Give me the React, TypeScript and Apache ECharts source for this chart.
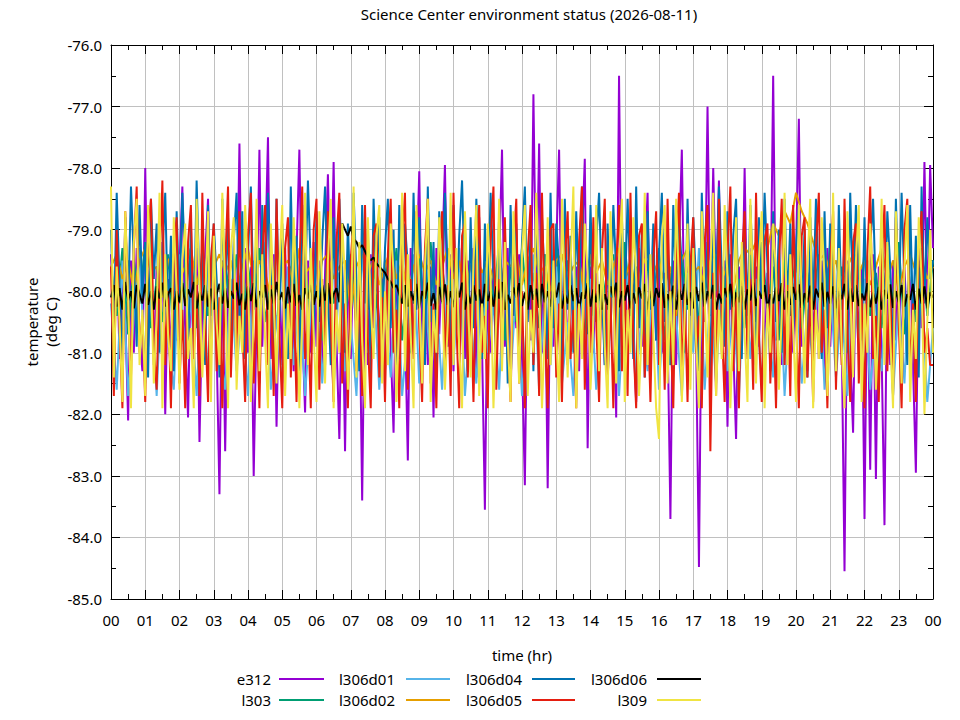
import React, { useEffect, useRef } from "react";
import * as echarts from "echarts";

const TITLE = "Science Center environment status (2026-08-11)";
const X_NAME = "time (hr)";
const Y_NAME = ["temperature", "(deg C)"];

const seriesNames = ["e312", "l303", "l306d01", "l306d02", "l306d04", "l306d05", "l306d06", "l309"];
const seriesColors = ["#9400d3", "#009e73", "#56b4e9", "#e69f00", "#0072b2", "#e51e10", "#000000", "#f0e442"];

// readings every 5 minutes, 00:00 .. 24:00 (one row per hour)
const e312 = [
  -79.4, -80.6, -79.2, -81.1, -79.7, -80.4, -82.1, -79.5, -81.0, -79.3, -80.7, -81.3,
  -78.0, -80.9, -79.4, -81.2, -79.6, -80.5, -79.2, -82.0, -79.8, -81.1, -79.4, -80.8,
  -79.6, -78.3, -80.7, -82.05, -79.5, -81.0, -79.3, -82.45, -80.2, -79.4, -78.5, -81.1,
  -79.7, -80.9, -83.3, -79.5, -82.6, -79.8, -81.2, -79.4, -80.6, -77.6, -80.8, -79.3,
  -81.0, -79.6, -83.0, -80.4, -77.7, -80.9, -79.5, -77.5, -81.1, -79.4, -82.2, -79.8,
  -81.2, -79.3, -80.8, -79.6, -81.3, -79.4, -77.7, -80.6, -81.97, -79.5, -81.0, -79.2,
  -80.9, -79.5, -81.3, -79.7, -78.1, -80.3, -77.9, -80.8, -82.4, -79.6, -82.6, -79.4,
  -81.1, -79.3, -80.7, -79.8, -83.4, -79.5, -81.2, -79.4, -80.6, -79.2, -81.0, -79.7,
  -81.3, -79.5, -80.9, -82.3, -79.4, -81.1, -79.6, -80.5, -82.75, -79.3, -81.0, -79.7,
  -78.05, -80.8, -79.4, -81.2, -79.6, -82.05, -79.3, -80.7, -79.5, -77.95, -80.9, -79.4,
  -81.3, -79.6, -80.8, -79.2, -81.1, -79.5, -80.6, -79.3, -81.4, -78.8, -80.9, -83.55,
  -79.6, -81.0, -79.4, -81.2, -79.5, -77.7, -80.9, -79.3, -81.3, -79.7, -80.6, -79.4,
  -81.1, -83.15, -79.5, -80.8, -76.8, -80.2, -77.6, -81.0, -79.4, -83.2, -79.6, -80.9,
  -79.3, -77.7, -80.9, -79.5, -81.2, -79.4, -80.7, -79.6, -81.3, -79.2, -77.85, -82.55,
  -79.6, -81.0, -79.3, -80.8, -79.7, -81.2, -79.4, -80.6, -79.5, -82.05, -76.5, -80.9,
  -79.4, -81.1, -79.6, -80.7, -81.8, -79.3, -80.9, -79.5, -78.4, -81.2, -79.6, -80.8,
  -79.4, -81.0, -79.7, -80.6, -83.7, -79.5, -81.2, -79.3, -77.7, -80.9, -79.5, -81.1,
  -79.4, -80.8, -84.48, -79.6, -80.5, -77.0, -80.4, -78.0, -80.1, -78.2, -81.0, -79.5,
  -82.2, -79.4, -80.9, -82.4, -79.6, -80.7, -78.0, -80.8, -79.3, -81.2, -79.6, -80.9,
  -79.4, -81.1, -79.7, -80.6, -76.5, -80.8, -79.5, -81.2, -79.3, -80.9, -79.6, -81.0,
  -79.4, -77.2, -80.9, -79.6, -81.3, -79.4, -80.8, -79.7, -81.1, -79.5, -81.3, -79.3,
  -80.9, -79.6, -81.2, -79.4, -80.7, -84.55, -79.5, -81.0, -82.3, -79.4, -80.8, -79.6,
  -83.7, -79.5, -82.9, -79.4, -83.05, -79.6, -81.0, -83.8, -79.3, -81.2, -79.5, -80.8,
  -79.4, -81.1, -79.6, -80.7, -79.3, -81.2, -82.95, -79.5, -80.6, -77.9, -80.4, -77.95,
  -79.3,
];

// readings every 10 minutes
const l303 = [
  -79.6, -80.4, -79.3, -80.7, -79.5, -80.2, -79.2, -80.6, -79.8, -80.5, -79.4, -80.8,
  -79.6, -80.1, -79.3, -80.6, -79.7, -80.4, -79.2, -80.7, -79.5, -80.3, -79.4, -80.8,
  -79.6, -80.2, -79.3, -80.5, -79.8, -80.6, -79.4, -80.3, -79.2, -80.7, -79.6, -80.4,
  -79.5, -80.8, -79.3, -80.2, -79.7, -80.5, -79.4, -80.6, -79.2, -80.3, -79.6, -80.7,
  -79.5, -80.4, -79.3, -80.8, -79.7, -80.2, -79.4, -80.6, -79.2, -80.5, -79.6, -80.3,
  -79.5, -80.7, -79.3, -80.4, -79.8, -80.6, -79.4, -80.2, -79.2, -80.8, -79.6, -80.5,
  -79.3, -80.3, -79.7, -80.6, -79.4, -80.4, -79.2, -80.7, -79.5, -80.2, -79.6, -80.8,
  -79.3, -80.5, -79.7, -80.3, -79.4, -80.6, -79.2, -80.4, -79.6, -80.7, -79.5, -80.2,
  -79.3, -80.8, -79.7, -80.5, -79.4, -80.3, -79.2, -80.6, -79.6, -80.4, -79.5, -80.7,
  -79.3, -80.2, -79.8, -80.6, -79.4, -80.5, -79.2, -80.3, -79.6, -80.8, -79.5, -80.4,
  -79.3, -80.6, -79.7, -80.2, -79.4, -80.7, -79.2, -80.5, -79.6, -80.3, -79.5, -80.8,
  -79.3, -80.4, -79.7, -80.6, -79.4, -80.2, -79.2, -80.7, -79.6, -80.5, -79.3, -80.4,
  -79.5,
];

// readings every 10 minutes
const l306d01 = [
  -80.2, -81.6, -79.5, -81.7, -80.4, -79.3, -81.5, -80.0, -81.7, -79.6, -80.8, -81.6,
  -79.4, -81.2, -80.1, -81.7, -79.7, -81.4, -79.3, -80.9, -81.6, -79.8, -81.3, -80.2,
  -81.7, -79.5, -81.0, -79.2, -81.6, -80.4, -81.5, -79.6, -81.2, -79.9, -81.7, -80.3,
  -79.4, -81.5, -80.0, -81.6, -79.7, -81.3, -80.5, -81.7, -79.3, -81.0, -79.8, -81.6,
  -80.2, -81.4, -79.5, -81.7, -80.6, -79.4, -81.5, -79.9, -81.3, -80.1, -81.6, -79.6,
  -81.2, -79.3, -81.7, -80.4, -81.5, -79.7, -81.0, -80.2, -81.6, -79.5, -81.4, -79.9,
  -81.7, -80.3, -79.4, -81.6, -80.0, -81.2, -79.6, -81.5, -80.5, -81.7, -79.3, -81.1,
  -79.8, -81.6, -80.2, -81.4, -79.5, -81.7, -80.0, -79.6, -81.5, -80.3, -81.3, -79.4,
  -81.6, -79.9, -81.2, -80.4, -81.7, -79.7, -81.0, -79.3, -81.6, -80.1, -81.5, -79.6,
  -81.3, -80.2, -81.7, -79.5, -81.1, -79.8, -81.6, -80.4, -81.4, -79.3, -81.7, -80.0,
  -79.7, -81.5, -80.3, -81.2, -79.5, -81.6, -79.9, -81.4, -80.2, -81.7, -79.4, -81.0,
  -79.8, -81.6, -80.5, -81.3, -79.6, -81.7, -80.1, -81.5, -79.4, -81.2, -80.0, -81.8,
  -80.6,
];

// readings every 10 minutes
const l306d02 = [
  -79.6, -79.4, -79.8, -79.5, -80.0, -79.5, -79.3, -79.7, -79.6, -80.1, -79.5, -79.4,
  -79.8, -79.6, -79.3, -79.9, -79.5, -80.2, -79.6, -79.4, -79.7, -79.5, -80.0, -79.6,
  -79.3, -79.8, -79.5, -79.7, -80.1, -79.4, -79.6, -79.5, -79.9, -79.3, -79.7, -79.6,
  -80.0, -79.5, -79.4, -79.8, -79.6, -79.5, -80.3, -79.6, -79.4, -79.7, -79.5, -79.9,
  -79.6, -79.3, -79.8, -79.5, -80.1, -79.6, -79.4, -79.7, -79.5, -79.9, -79.6, -79.3,
  -79.8, -79.5, -80.0, -79.6, -79.4, -79.7, -79.5, -79.8, -80.2, -79.5, -79.6, -79.4,
  -79.9, -79.5, -79.3, -79.7, -79.6, -80.0, -79.5, -79.4, -79.8, -79.6, -79.5, -80.1,
  -79.4, -79.7, -79.5, -79.9, -79.6, -79.3, -79.8, -79.5, -80.0, -79.6, -79.4, -79.7,
  -79.5, -79.9, -79.6, -80.4, -79.5, -79.3, -79.7, -79.6, -79.9, -79.5, -79.4, -79.8,
  -79.6, -80.0, -79.5, -79.3, -79.4, -79.2, -79.0, -79.3, -78.9, -79.1, -78.7, -78.9,
  -78.4, -78.7, -78.9, -79.2, -79.5, -79.4, -79.7, -79.5, -80.0, -79.6, -79.4, -79.7,
  -79.5, -79.9, -79.6, -79.3, -79.8, -79.5, -80.0, -79.6, -79.4, -79.7, -79.5, -79.8,
  -79.6,
];

// readings every 5 minutes
const l306d04 = [
  -79.0, -80.6, -78.4, -79.9, -81.2, -78.8, -80.3, -78.3, -79.5, -80.9, -78.6, -80.1,
  -79.2, -81.4, -78.5, -79.8, -78.9, -81.0, -79.4, -78.4, -80.5, -79.1, -81.3, -78.7,
  -80.2, -78.4, -79.6, -81.1, -78.9, -80.7, -78.2, -79.9, -79.3, -81.2, -78.6, -80.4,
  -78.9, -79.8, -81.4, -78.5, -80.2, -78.8, -80.9, -79.2, -78.4, -80.6, -78.7, -81.1,
  -79.4, -78.3, -80.3, -79.0, -81.5, -78.6, -80.1, -78.4, -79.7, -81.2, -78.5, -80.5,
  -78.9, -79.9, -81.1, -78.3, -80.4, -79.1, -81.3, -78.6, -80.0, -78.2, -79.6, -80.8,
  -78.7, -80.5, -79.2, -78.3, -80.1, -81.2, -78.8, -80.3, -78.5, -79.7, -81.0, -78.9,
  -80.4, -78.4, -79.8, -81.3, -78.6, -80.2, -79.0, -81.4, -78.5, -80.0, -78.8, -80.7,
  -79.3, -78.5, -80.6, -79.0, -81.5, -78.6, -80.1, -78.9, -79.6, -81.0, -78.4, -80.3,
  -78.8, -79.9, -81.2, -78.3, -80.5, -79.2, -81.4, -78.7, -80.2, -78.4, -79.7, -80.9,
  -78.6, -80.4, -79.1, -78.2, -80.0, -81.3, -78.8, -80.6, -78.5, -79.8, -81.1, -78.9,
  -80.3, -78.4, -79.7, -81.2, -78.7, -80.1, -79.3, -81.5, -78.6, -80.4, -78.9, -80.8,
  -79.2, -78.3, -80.5, -79.0, -81.3, -78.5, -80.2, -78.8, -79.9, -81.1, -78.4, -80.6,
  -78.9, -79.6, -81.4, -78.5, -80.3, -79.1, -81.0, -78.7, -80.1, -78.3, -79.8, -80.7,
  -78.6, -80.4, -79.2, -78.4, -80.0, -81.2, -78.9, -80.5, -78.6, -79.7, -81.3, -78.8,
  -80.2, -78.5, -79.9, -81.1, -78.3, -80.6, -79.0, -81.4, -78.7, -80.3, -78.9, -80.8,
  -79.4, -78.4, -80.5, -79.1, -81.2, -78.6, -80.1, -78.8, -79.6, -81.0, -78.5, -80.4,
  -78.8, -79.9, -81.3, -78.4, -80.2, -79.2, -81.5, -78.6, -80.0, -78.3, -79.7, -80.9,
  -78.7, -80.3, -79.1, -78.5, -80.6, -81.1, -78.9, -80.4, -78.6, -79.8, -81.2, -78.8,
  -80.1, -78.4, -79.6, -81.3, -78.7, -80.5, -79.0, -81.0, -78.5, -80.2, -78.9, -80.7,
  -79.3, -78.6, -80.4, -79.0, -81.4, -78.8, -80.2, -78.5, -79.9, -81.1, -78.7, -80.6,
  -78.9, -79.8, -81.2, -78.6, -80.3, -79.2, -81.0, -78.4, -80.1, -78.6, -79.7, -80.8,
  -78.8, -80.5, -79.3, -78.5, -80.1, -81.3, -78.9, -80.4, -78.7, -79.6, -81.1, -78.5,
  -80.3, -78.4, -79.9, -81.2, -78.6, -80.5, -79.1, -81.4, -78.3, -80.2, -78.8, -79.8,
  -79.5,
];

// readings every 5 minutes
const l306d05 = [
  -79.6, -81.7, -79.0, -80.6, -81.9, -78.7, -80.2, -81.4, -79.3, -78.3, -81.0, -80.4,
  -81.8, -79.1, -78.5, -80.9, -81.6, -79.7, -78.2, -81.2, -80.0, -81.9, -79.4, -78.8,
  -81.5, -80.3, -81.9, -79.2, -78.6, -81.1, -79.9, -81.7, -78.4, -80.5, -81.8, -79.5,
  -78.9, -81.3, -80.1, -81.9, -79.6, -78.3, -81.4, -79.8, -81.0, -78.7, -80.6, -81.8,
  -79.1, -78.4, -81.5, -80.2, -81.9, -79.4, -78.6, -81.2, -79.9, -81.7, -78.5, -80.7,
  -81.9, -79.3, -78.8, -81.4, -80.0, -81.8, -79.6, -78.3, -81.1, -80.4, -81.9, -79.0,
  -78.5, -81.6, -79.8, -81.2, -78.7, -80.5, -81.8, -79.2, -78.4, -81.5, -80.2, -81.9,
  -79.5, -78.8, -81.3, -79.9, -81.7, -78.6, -80.8, -81.9, -79.1, -78.9, -81.4, -80.1,
  -81.8, -79.4, -78.5, -81.0, -80.3, -81.9, -79.2, -78.4, -81.6, -79.8, -81.1, -78.7,
  -80.6, -81.8, -79.3, -78.5, -81.5, -80.2, -81.9, -79.5, -78.7, -81.2, -79.9, -81.7,
  -78.4, -80.5, -81.9, -79.1, -78.9, -81.4, -80.1, -81.8, -79.6, -78.6, -81.0, -80.4,
  -81.9, -79.2, -78.3, -81.6, -79.8, -81.1, -78.8, -80.7, -81.8, -79.3, -78.5, -81.5,
  -80.0, -81.9, -79.4, -78.6, -81.2, -79.7, -81.7, -78.4, -80.6, -81.9, -79.0, -78.9,
  -81.4, -80.2, -81.8, -79.5, -78.7, -81.1, -80.3, -81.9, -79.2, -78.3, -81.6, -79.9,
  -81.0, -78.8, -80.5, -81.8, -79.4, -78.5, -81.5, -80.1, -81.9, -79.6, -78.6, -81.3,
  -79.8, -81.7, -78.4, -80.8, -81.9, -79.1, -78.9, -81.4, -80.2, -81.8, -79.5, -78.7,
  -81.2, -79.9, -81.6, -78.5, -80.6, -81.9, -79.3, -78.4, -81.5, -80.0, -81.8, -79.6,
  -78.8, -81.0, -80.4, -81.9, -79.2, -78.6, -82.6, -79.7, -81.7, -78.5, -80.5, -81.8,
  -79.4, -78.3, -81.3, -80.1, -81.9, -79.5, -78.7, -81.1, -79.8, -81.6, -78.4, -80.7,
  -81.8, -79.2, -78.9, -81.5, -80.2, -81.9, -79.6, -78.5, -81.2, -79.9, -81.7, -78.6,
  -80.4, -81.9, -79.1, -78.8, -81.4, -80.0, -81.8, -79.3, -78.4, -81.0, -80.3, -81.9,
  -79.5, -78.7, -81.6, -79.8, -81.2, -78.5, -80.6, -81.8, -79.2, -78.9, -81.5, -80.1,
  -81.9, -79.4, -78.3, -81.1, -80.4, -81.8, -79.6, -78.6, -81.3, -79.9, -81.7, -78.8,
  -80.5, -81.9, -79.0, -78.5, -81.4, -80.2, -81.8, -79.3, -78.7, -81.0, -80.6, -81.2,
  -81.2,
];

// readings every 5 minutes
const l306d06 = [
  -80.1, -79.9, -80.25, -79.95, -80.3, -79.85, -80.15, -80.0, -80.28, -79.9, -80.05, -80.2,
  -79.88, -80.22, -80.0, -80.3, -79.92, -80.12, -79.86, -80.25, -80.05, -79.95, -80.3, -80.0,
  -80.18, -79.87, -80.24, -79.97, -80.1, -79.85, -80.28, -80.02, -80.15, -79.9, -80.25, -79.96,
  -80.3, -80.05, -79.88, -80.2, -79.95, -80.27, -80.0, -80.12, -79.86, -80.23, -80.04, -80.3,
  -79.92, -80.16, -79.87, -80.26, -80.0, -80.1, -79.9, -80.3, -79.97, -80.2, -79.85, -80.14,
  -80.02, -80.28, -79.93, -80.18, -79.88, -80.24, -80.06, -80.3, -79.95, -80.12, -79.9, -80.22,
  -80.0, -80.25, -79.9, -80.15, -79.87, -80.2, -80.05, -79.95, -80.18, -78.9, -79.0, -79.1,
  -78.95, -79.15, -79.2, -79.3, -79.25, -79.35, -79.45, -79.5, -79.45, -79.55, -79.6, -79.65,
  -79.7, -79.8, -79.85, -79.95, -79.9, -80.05, -80.2, -79.9, -80.25, -80.0, -80.15, -79.88,
  -80.28, -80.0, -80.12, -79.86, -80.24, -80.03, -80.3, -79.93, -80.17, -79.89, -80.22, -80.0,
  -80.26, -79.95, -80.1, -79.86, -80.3, -80.04, -80.2, -79.9, -80.15, -79.97, -80.28, -79.88,
  -80.16, -80.0, -80.25, -79.92, -80.12, -79.85, -80.3, -80.06, -80.2, -79.94, -80.1, -79.87,
  -80.24, -80.02, -80.3, -79.9, -80.14, -79.96, -80.27, -79.88, -80.18, -80.0, -80.25, -79.93,
  -80.1, -79.86, -80.28, -80.04, -80.2, -79.9, -80.16, -79.95, -80.3, -80.02, -80.12, -79.87,
  -80.25, -79.97, -80.18, -79.89, -80.3, -80.05, -80.22, -79.92, -80.1, -79.86, -80.26, -80.0,
  -80.15, -79.9, -80.28, -80.03, -80.2, -79.94, -80.12, -79.88, -80.3, -80.0, -80.24, -79.95,
  -80.1, -79.87, -80.27, -80.05, -80.18, -79.91, -80.3, -79.96, -80.14, -79.88, -80.22, -80.02,
  -80.28, -79.93, -80.16, -79.86, -80.25, -80.0, -80.12, -79.9, -80.3, -80.04, -80.2, -79.95,
  -80.1, -79.88, -80.26, -80.02, -80.18, -79.92, -80.3, -79.97, -80.15, -79.86, -80.24, -80.0,
  -80.12, -79.9, -80.28, -80.05, -80.2, -79.94, -80.16, -79.87, -80.3, -80.0, -80.22, -79.93,
  -80.14, -79.89, -80.27, -80.03, -80.18, -79.91, -80.3, -79.96, -80.1, -79.86, -80.25, -80.01,
  -80.2, -79.92, -80.28, -80.0, -80.13, -79.88, -80.3, -79.95, -80.17, -79.9, -80.24, -80.04,
  -80.15, -79.87, -80.26, -80.02, -80.2, -79.93, -80.3, -79.98, -80.12, -79.89, -80.27, -80.0,
  -80.18, -79.9, -80.25, -80.05, -80.14, -79.88, -80.3, -79.96, -80.2, -79.92, -80.28, -80.02,
  -80.1,
];

// readings every 5 minutes
const l309 = [
  -78.3, -81.4, -79.6, -80.5, -81.8, -78.7, -80.1, -81.9, -79.2, -78.5, -81.2, -80.3,
  -81.7, -78.6, -79.8, -81.5, -80.4, -78.4, -81.9, -79.4, -80.7, -81.3, -78.8, -80.0,
  -81.6, -79.5, -78.9, -81.1, -80.6, -81.9, -78.5, -79.9, -81.4, -80.2, -78.7, -81.8,
  -79.1, -80.5, -81.2, -78.4, -80.0, -81.9, -79.3, -78.8, -81.6, -80.4, -81.0, -78.6,
  -79.7, -81.8, -80.3, -78.5, -81.3, -79.4, -80.8, -81.9, -78.9, -80.1, -81.5, -79.6,
  -78.6, -81.7, -80.2, -81.1, -78.8, -79.9, -81.9, -80.5, -78.4, -81.2, -79.3, -80.7,
  -81.8, -78.7, -80.0, -81.5, -79.5, -78.5, -81.9, -80.3, -81.0, -78.9, -79.8, -81.6,
  -80.6, -78.3, -81.4, -79.2, -80.8, -81.9, -78.8, -80.2, -81.1, -79.1, -78.6, -81.5,
  -80.0, -81.2, -78.9, -79.7, -81.8, -80.4, -78.4, -81.3, -79.4, -80.7, -81.9, -78.6,
  -80.1, -81.5, -79.6, -78.5, -81.8, -80.3, -81.0, -78.8, -79.9, -81.6, -80.5, -78.4,
  -81.2, -79.3, -80.9, -81.9, -78.7, -80.0, -81.4, -79.5, -78.6, -81.7, -80.2, -81.1,
  -78.9, -79.8, -81.9, -80.4, -78.5, -81.3, -79.2, -80.8, -81.8, -78.7, -80.1, -81.5,
  -79.4, -78.6, -81.7, -80.3, -81.0, -78.4, -79.9, -81.9, -80.6, -78.8, -81.2, -79.5,
  -80.7, -81.8, -78.5, -80.0, -81.4, -79.6, -78.3, -81.9, -80.2, -81.1, -78.9, -79.7,
  -81.6, -80.5, -78.6, -81.3, -79.3, -80.9, -81.9, -78.7, -80.1, -81.5, -79.5, -78.5,
  -81.8, -80.3, -81.0, -78.8, -79.8, -81.7, -80.6, -78.4, -81.2, -79.4, -80.7, -81.9,
  -82.4, -79.1, -78.6, -81.5, -80.0, -81.2, -78.5, -79.9, -81.8, -80.4, -78.9, -81.6,
  -79.3, -80.8, -81.9, -78.7, -80.1, -81.4, -79.6, -78.4, -81.7, -80.3, -81.1, -78.6,
  -79.8, -81.9, -80.5, -78.8, -81.3, -79.2, -80.7, -81.8, -78.5, -80.0, -81.5, -79.5,
  -78.7, -81.9, -80.2, -81.0, -78.9, -79.7, -81.6, -80.4, -78.4, -81.2, -79.4, -80.6,
  -81.8, -78.6, -80.1, -81.5, -79.6, -78.5, -81.9, -80.3, -81.1, -78.8, -79.8, -81.7,
  -80.5, -78.4, -81.3, -79.3, -80.9, -81.9, -78.7, -80.0, -81.4, -79.5, -78.6, -81.8,
  -80.2, -81.0, -78.9, -79.9, -81.6, -80.4, -78.5, -81.2, -79.2, -80.7, -81.9, -78.7,
  -80.1, -81.5, -79.6, -78.6, -81.8, -80.3, -81.1, -78.8, -79.8, -82.0, -80.5, -79.0,
  -81.0,
];

const seriesValues = [e312, l303, l306d01, l306d02, l306d04, l306d05, l306d06, l309];

const Y_MIN = -85;
const Y_MAX = -76;
const X_MIN = 0;
const X_MAX = 24;

const FONT = "'Noto Sans', 'DejaVu Sans', sans-serif";

export default function App() {
  const ref = useRef<HTMLDivElement>(null);

  useEffect(() => {
    if (!ref.current) return;
    const chart = echarts.init(ref.current, undefined, { renderer: "svg" });

    const toPoints = (vals: number[]) =>
      vals.map((v, i) => [X_MIN + (i * (X_MAX - X_MIN)) / (vals.length - 1), v]);

    const series = seriesNames.map((name, k) => ({
      name,
      type: "line",
      data: toPoints(seriesValues[k]),
      xAxisIndex: 0,
      yAxisIndex: 0,
      showSymbol: false,
      symbol: "none",
      lineStyle: { color: seriesColors[k], width: 2 },
      itemStyle: { color: seriesColors[k] },
      z: 2 + k,
    }));

    const tickCommon = {
      axisLine: { show: true, onZero: false, lineStyle: { color: "#000", width: 1 } },
      axisTick: { show: true, inside: true, length: 9, lineStyle: { color: "#000", width: 1 } },
      minorTick: { show: true, splitNumber: 2, length: 5, lineStyle: { color: "#000", width: 1 } },
    };

    const legendCols = [
      { right: 271, lineStart: 279, lineEnd: 324 },
      { right: 395, lineStart: 406, lineEnd: 450 },
      { right: 522, lineStart: 532, lineEnd: 575 },
      { right: 647, lineStart: 657, lineEnd: 701 },
    ];
    const legendRows = [679, 700];
    const legendGraphics: any[] = [];
    seriesNames.forEach((name, k) => {
      const col = legendCols[Math.floor(k / 2)];
      const y = legendRows[k % 2];
      legendGraphics.push({
        type: "text",
        x: col.right,
        y,
        style: {
          text: name,
          font: `15px ${FONT}`,
          fill: "#000",
          textAlign: "right",
          textVerticalAlign: "middle",
        },
      });
      legendGraphics.push({
        type: "line",
        shape: { x1: col.lineStart, y1: y, x2: col.lineEnd, y2: y },
        style: { stroke: seriesColors[k], lineWidth: 2 },
      });
    });

    chart.setOption({
      animation: false,
      backgroundColor: "#ffffff",
      grid: { left: 111, right: 27, top: 45, bottom: 121, containLabel: false },
      xAxis: [
        {
          type: "value",
          position: "bottom",
          min: X_MIN,
          max: X_MAX,
          interval: 1,
          ...tickCommon,
          axisLabel: {
            color: "#000",
            fontSize: 15,
            fontFamily: FONT,
            margin: 13,
            formatter: (v: number) => String(Math.round(v) % 24).padStart(2, "0"),
          },
          splitLine: { show: true, lineStyle: { color: "#c0c0c0", width: 1 } },
        },
        {
          type: "value",
          position: "top",
          min: X_MIN,
          max: X_MAX,
          interval: 1,
          ...tickCommon,
          axisLabel: { show: false },
          splitLine: { show: false },
        },
      ],
      yAxis: [
        {
          type: "value",
          position: "left",
          min: Y_MIN,
          max: Y_MAX,
          interval: 1,
          ...tickCommon,
          axisLabel: {
            color: "#000",
            fontSize: 15,
            fontFamily: FONT,
            margin: 9,
            formatter: (v: number) => v.toFixed(1),
          },
          splitLine: { show: true, lineStyle: { color: "#c0c0c0", width: 1 } },
        },
        {
          type: "value",
          position: "right",
          min: Y_MIN,
          max: Y_MAX,
          interval: 1,
          ...tickCommon,
          axisLabel: { show: false },
          splitLine: { show: false },
        },
      ],
      graphic: [
        {
          type: "text",
          x: 529,
          y: 14,
          style: {
            text: TITLE,
            font: `15px ${FONT}`,
            fill: "#000",
            textAlign: "center",
            textVerticalAlign: "middle",
          },
        },
        {
          type: "text",
          x: 522,
          y: 655,
          style: {
            text: X_NAME,
            font: `15px ${FONT}`,
            fill: "#000",
            textAlign: "center",
            textVerticalAlign: "middle",
          },
        },
        {
          type: "text",
          x: 41,
          y: 322,
          rotation: Math.PI / 2,
          style: {
            text: Y_NAME.join("\n"),
            font: `15px ${FONT}`,
            fill: "#000",
            textAlign: "center",
            textVerticalAlign: "middle",
            lineHeight: 19,
          },
        },
        ...legendGraphics,
      ],
      series,
    });

    return () => chart.dispose();
  }, []);

  return (
    <div
      ref={ref}
      style={{ position: "fixed", left: 0, top: 0, width: 960, height: 720, background: "#fff" }}
    />
  );
}
